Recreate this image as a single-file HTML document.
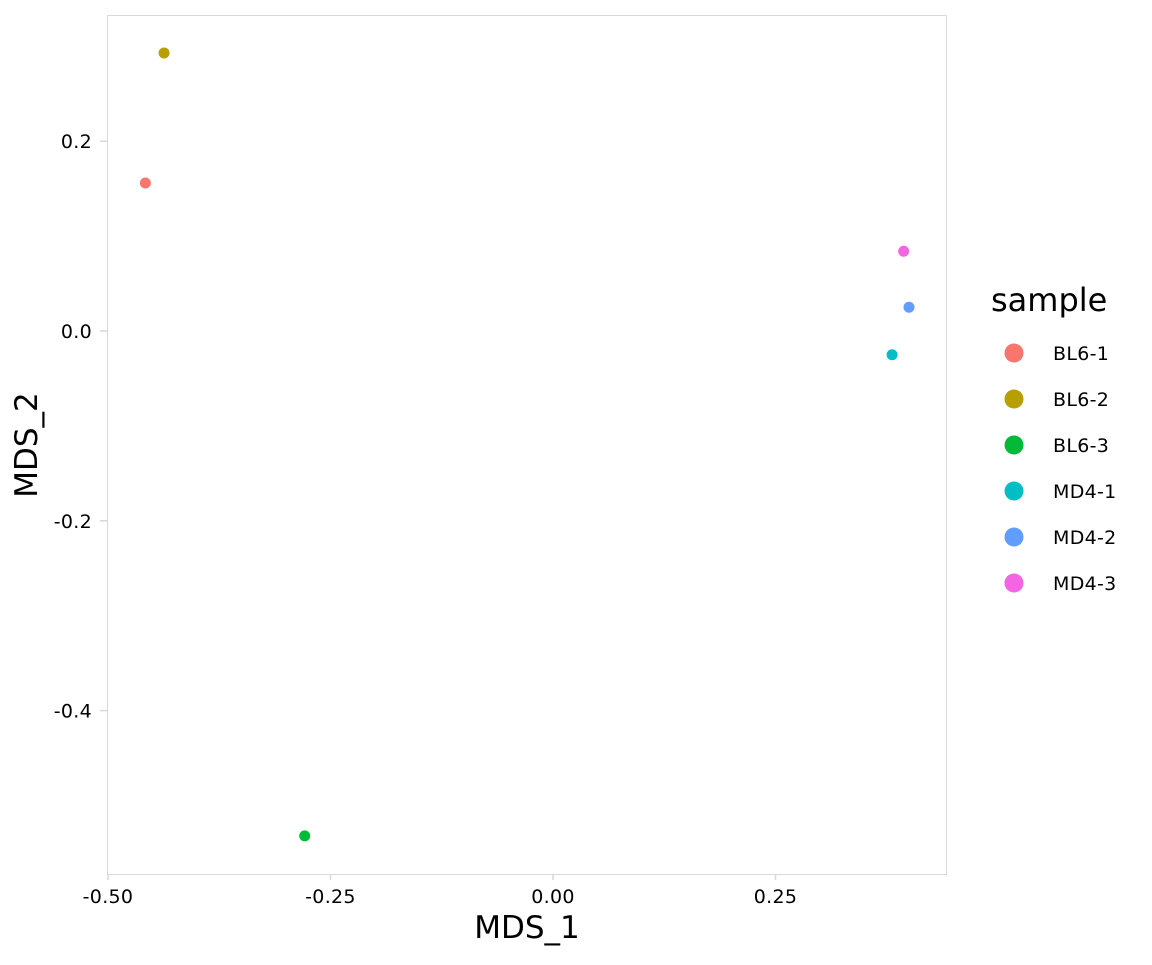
<!DOCTYPE html>
<html><head><meta charset="utf-8"><style>
body{margin:0;background:#fff;}
svg text{font-family:"DejaVu Sans","Liberation Sans",sans-serif;}
</style></head><body>
<svg id="chart" width="1152" height="960">
<rect x="107.5" y="15.5" width="839" height="859" fill="none" stroke="#d9d9d9" stroke-width="1"/>
<g id="xaxis"></g>
<g id="yaxis"></g>
<g id="points"></g>
<text x="527" y="938" font-size="31" text-anchor="middle" fill="#000">MDS_1</text>
<text transform="translate(37,445) rotate(-90)" font-size="31" text-anchor="middle" fill="#000">MDS_2</text>
<g id="legend">
<text x="991" y="311" font-size="32" fill="#000">sample</text>
</g>
</svg>
<script>
const samples=["BL6-1","BL6-2","BL6-3","MD4-1","MD4-2","MD4-3"];
const mds1=[-0.458,-0.437,-0.279,0.381,0.400,0.394];
const mds2=[0.156,0.293,-0.532,-0.025,0.025,0.084];
const colors=["#F8766D","#B79F00","#00BA38","#00BFC4","#619CFF","#F564E3"];
const xTicks=[-0.5,-0.25,0,0.25];
const xTickLabels=["-0.50","-0.25","0.00","0.25"];
const yTicks=[-0.4,-0.2,0,0.2];
const yTickLabels=["-0.4","-0.2","0.0","0.2"];
const NS="http://www.w3.org/2000/svg";
const sx=v=>553+v*890;
const sy=v=>331-v*949;
function mk(tag,attrs,parent){const e=document.createElementNS(NS,tag);for(const k in attrs)e.setAttribute(k,attrs[k]);parent.appendChild(e);return e;}
const xa=document.getElementById('xaxis'),ya=document.getElementById('yaxis');
xTicks.forEach((t,i)=>{
 const l=mk('line',{x1:sx(t),x2:sx(t),y1:875,y2:880,stroke:'#d9d9d9','stroke-width':1.5},xa);
 
 
 const tx=mk('text',{x:sx(t),y:903,'font-size':19,'letter-spacing':0.3,'text-anchor':'middle',fill:'#000'},xa);
 tx.textContent=xTickLabels[i];
 
 
});
yTicks.forEach((t,i)=>{
 const l=mk('line',{x1:100,x2:107,y1:sy(t),y2:sy(t),stroke:'#d9d9d9','stroke-width':1.5},ya);
 
 
 const tx=mk('text',{x:92,y:sy(t)+7,'font-size':19,'letter-spacing':0.3,'text-anchor':'end',fill:'#000'},ya);
 tx.textContent=yTickLabels[i];
 
 
});
const pg=document.getElementById('points');
samples.forEach((s,i)=>{
 const c=mk('circle',{cx:sx(mds1[i]),cy:sy(mds2[i]),r:5.5,fill:colors[i]},pg);
 
 
});
const lg=document.getElementById('legend');
samples.forEach((s,i)=>{
 const y=353+i*46;
 const c=mk('circle',{cx:1014,cy:y,r:9.5,fill:colors[i]},lg);
 
 
 const t=mk('text',{x:1053,y:y+7,'font-size':19,'letter-spacing':0.3,fill:'#000'},lg);
 t.textContent=s;
 
 
});
</script>
</body></html>
